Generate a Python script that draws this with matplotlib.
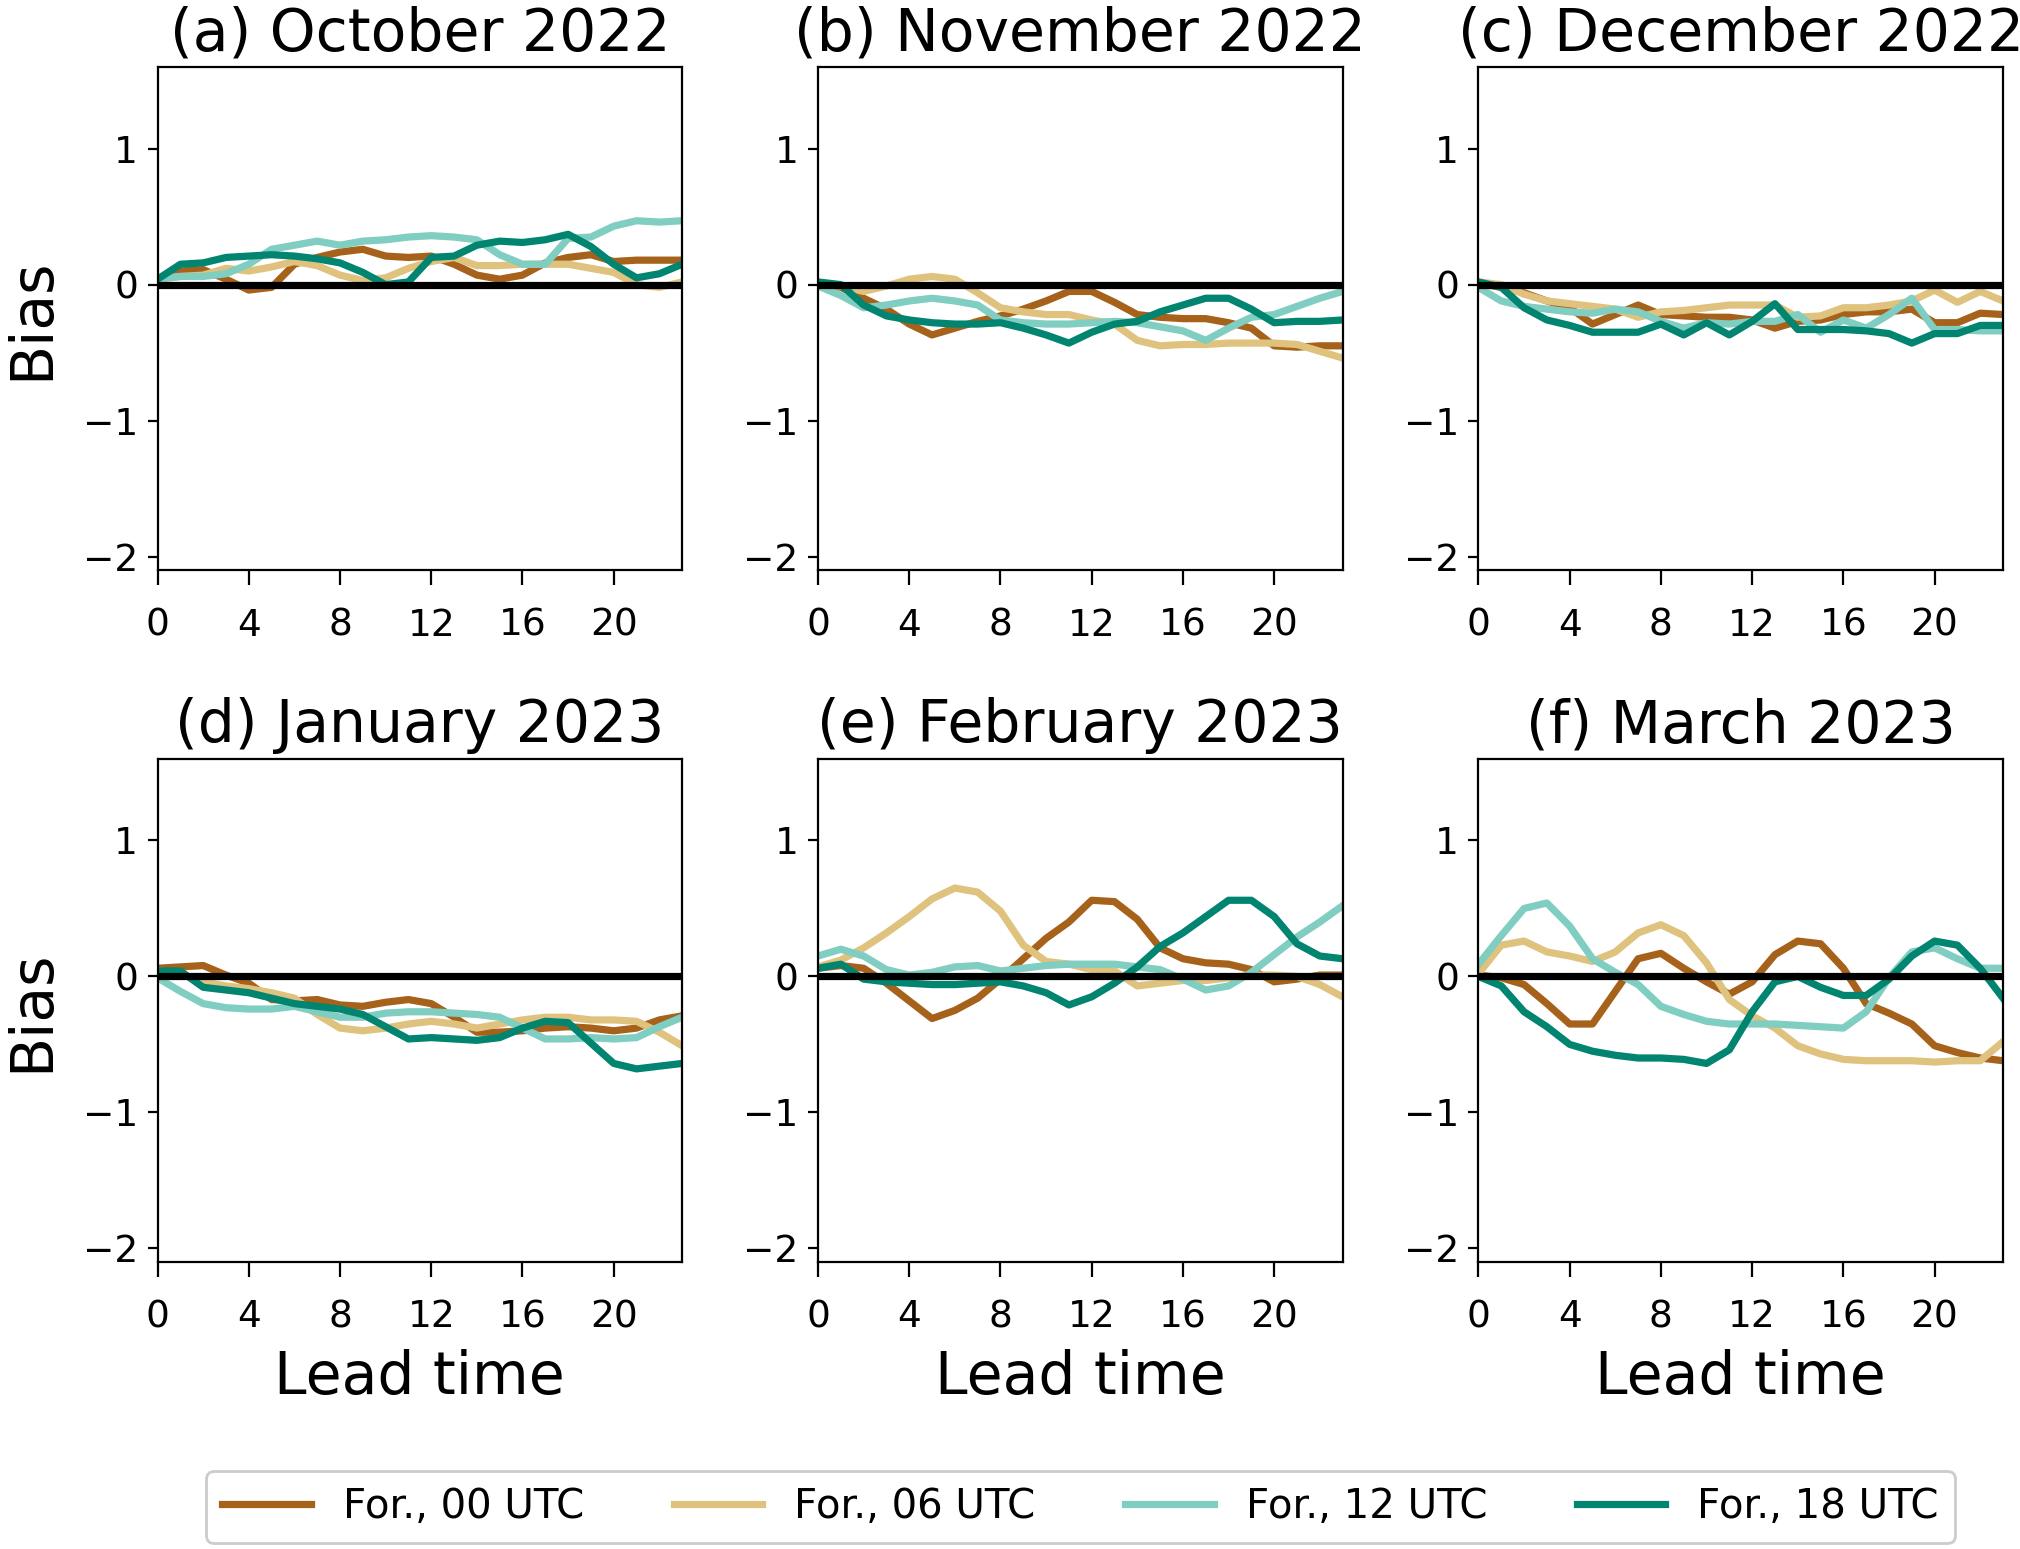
import matplotlib
matplotlib.use('Agg')
import matplotlib.pyplot as plt

lead_time = list(range(24))

titles = ['(a) October 2022', '(b) November 2022', '(c) December 2022',
          '(d) January 2023', '(e) February 2023', '(f) March 2023']
labels = ['For., 00 UTC', 'For., 06 UTC', 'For., 12 UTC', 'For., 18 UTC']
colors = ['#a6611a', '#dfc27d', '#80cdc1', '#018571']

# bias per month, one list per forecast run (00, 06, 12, 18 UTC)
oct_00 = [0.04, 0.10, 0.11, 0.04, -0.04, -0.02, 0.15, 0.20, 0.24, 0.26, 0.21, 0.20,
          0.21, 0.15, 0.07, 0.04, 0.07, 0.16, 0.20, 0.22, 0.17, 0.18, 0.18, 0.18]
oct_06 = [0.04, 0.06, 0.07, 0.12, 0.10, 0.13, 0.17, 0.14, 0.07, 0.03, 0.05, 0.12,
          0.17, 0.20, 0.14, 0.14, 0.15, 0.15, 0.15, 0.12, 0.09, 0.00, -0.02, 0.02]
oct_12 = [0.04, 0.06, 0.06, 0.08, 0.15, 0.26, 0.29, 0.32, 0.29, 0.32, 0.33, 0.35,
          0.36, 0.35, 0.33, 0.22, 0.15, 0.15, 0.34, 0.35, 0.43, 0.47, 0.46, 0.47]
oct_18 = [0.04, 0.15, 0.16, 0.20, 0.21, 0.22, 0.21, 0.19, 0.16, 0.09, 0.00, 0.02,
          0.20, 0.21, 0.29, 0.32, 0.31, 0.33, 0.37, 0.28, 0.15, 0.05, 0.08, 0.15]

nov_00 = [0.01, -0.02, -0.10, -0.18, -0.29, -0.37, -0.32, -0.27, -0.23, -0.18, -0.12, -0.05,
          -0.05, -0.13, -0.22, -0.24, -0.25, -0.25, -0.28, -0.32, -0.45, -0.46, -0.45, -0.45]
nov_06 = [0.00, -0.01, -0.05, -0.01, 0.04, 0.06, 0.04, -0.06, -0.17, -0.20, -0.22, -0.22,
          -0.26, -0.29, -0.41, -0.45, -0.44, -0.44, -0.43, -0.43, -0.43, -0.44, -0.49, -0.54]
nov_12 = [-0.01, -0.08, -0.17, -0.15, -0.12, -0.10, -0.12, -0.15, -0.26, -0.28, -0.29, -0.29,
          -0.28, -0.27, -0.28, -0.31, -0.34, -0.41, -0.32, -0.24, -0.22, -0.16, -0.10, -0.05]
nov_18 = [0.02, 0.00, -0.15, -0.23, -0.26, -0.28, -0.29, -0.29, -0.28, -0.32, -0.37, -0.43,
          -0.35, -0.29, -0.27, -0.20, -0.15, -0.10, -0.10, -0.18, -0.28, -0.27, -0.27, -0.26]

dec_00 = [0.01, -0.02, -0.06, -0.12, -0.17, -0.29, -0.22, -0.15, -0.22, -0.23, -0.24, -0.24,
          -0.26, -0.32, -0.27, -0.26, -0.22, -0.20, -0.20, -0.18, -0.28, -0.28, -0.21, -0.22]
dec_06 = [0.02, 0.00, -0.07, -0.12, -0.14, -0.16, -0.18, -0.24, -0.20, -0.19, -0.17, -0.15,
          -0.15, -0.15, -0.24, -0.23, -0.17, -0.17, -0.15, -0.12, -0.04, -0.13, -0.05, -0.12]
dec_12 = [-0.02, -0.12, -0.16, -0.18, -0.20, -0.21, -0.18, -0.20, -0.27, -0.32, -0.28, -0.29,
          -0.27, -0.27, -0.22, -0.35, -0.26, -0.32, -0.22, -0.10, -0.33, -0.33, -0.34, -0.34]
dec_18 = [0.02, -0.02, -0.17, -0.26, -0.30, -0.35, -0.35, -0.35, -0.29, -0.37, -0.28, -0.37,
          -0.27, -0.14, -0.33, -0.33, -0.33, -0.34, -0.36, -0.43, -0.36, -0.36, -0.30, -0.30]

jan_00 = [0.06, 0.07, 0.08, 0.01, -0.05, -0.17, -0.18, -0.17, -0.21, -0.22, -0.19, -0.17,
          -0.20, -0.30, -0.41, -0.41, -0.40, -0.38, -0.37, -0.38, -0.40, -0.38, -0.32, -0.29]
jan_06 = [0.04, 0.02, -0.04, -0.07, -0.09, -0.12, -0.16, -0.28, -0.38, -0.40, -0.38, -0.35,
          -0.33, -0.35, -0.38, -0.35, -0.32, -0.30, -0.30, -0.32, -0.32, -0.33, -0.41, -0.51]
jan_12 = [-0.01, -0.11, -0.20, -0.23, -0.24, -0.24, -0.22, -0.26, -0.30, -0.30, -0.27, -0.26,
          -0.26, -0.27, -0.28, -0.30, -0.38, -0.46, -0.46, -0.45, -0.46, -0.45, -0.37, -0.30]
jan_18 = [0.04, 0.04, -0.08, -0.10, -0.12, -0.16, -0.20, -0.22, -0.24, -0.28, -0.37, -0.46,
          -0.45, -0.46, -0.47, -0.45, -0.38, -0.33, -0.34, -0.49, -0.64, -0.68, -0.66, -0.64]

feb_00 = [0.06, 0.08, 0.06, -0.05, -0.18, -0.31, -0.25, -0.16, -0.02, 0.13, 0.28, 0.40,
          0.56, 0.55, 0.42, 0.21, 0.13, 0.10, 0.09, 0.05, -0.04, -0.02, 0.01, 0.01]
feb_06 = [0.07, 0.12, 0.21, 0.32, 0.44, 0.57, 0.65, 0.62, 0.48, 0.23, 0.11, 0.09,
          0.05, 0.04, -0.07, -0.05, -0.03, -0.03, -0.01, 0.01, 0.01, 0.00, -0.06, -0.15]
feb_12 = [0.15, 0.20, 0.15, 0.05, 0.01, 0.03, 0.07, 0.08, 0.04, 0.06, 0.08, 0.09,
          0.09, 0.09, 0.07, 0.05, -0.02, -0.10, -0.07, 0.03, 0.16, 0.29, 0.40, 0.52]
feb_18 = [0.06, 0.09, -0.02, -0.04, -0.05, -0.06, -0.06, -0.05, -0.04, -0.07, -0.12, -0.21,
          -0.15, -0.05, 0.07, 0.22, 0.32, 0.44, 0.56, 0.56, 0.44, 0.24, 0.15, 0.13]

mar_00 = [0.01, -0.01, -0.06, -0.20, -0.35, -0.35, -0.11, 0.13, 0.17, 0.06, -0.04, -0.13,
          -0.04, 0.16, 0.26, 0.24, 0.06, -0.20, -0.27, -0.35, -0.51, -0.56, -0.60, -0.62]
mar_06 = [0.02, 0.23, 0.26, 0.18, 0.15, 0.11, 0.18, 0.32, 0.38, 0.30, 0.10, -0.17,
          -0.29, -0.38, -0.51, -0.57, -0.61, -0.62, -0.62, -0.62, -0.63, -0.62, -0.62, -0.48]
mar_12 = [0.09, 0.30, 0.50, 0.54, 0.37, 0.13, 0.03, -0.06, -0.22, -0.28, -0.33, -0.35,
          -0.35, -0.35, -0.36, -0.37, -0.38, -0.26, -0.01, 0.18, 0.21, 0.13, 0.06, 0.06]
mar_18 = [0.00, -0.07, -0.26, -0.37, -0.50, -0.55, -0.58, -0.60, -0.60, -0.61, -0.64, -0.54,
          -0.26, -0.04, 0.00, -0.08, -0.14, -0.14, -0.02, 0.15, 0.26, 0.23, 0.06, -0.16]

months = [
    [oct_00, oct_06, oct_12, oct_18],
    [nov_00, nov_06, nov_12, nov_18],
    [dec_00, dec_06, dec_12, dec_18],
    [jan_00, jan_06, jan_12, jan_18],
    [feb_00, feb_06, feb_12, feb_18],
    [mar_00, mar_06, mar_12, mar_18],
]


def main():
    fig, axes = plt.subplots(2, 3, figsize=(10.1, 7.745), dpi=200)
    fig.subplots_adjust(left=0.078, right=0.9916, top=0.9567, bottom=0.1853,
                        wspace=0.259, hspace=0.375)

    for idx, ax in enumerate(axes.flat):
        for series, label, color in zip(months[idx], labels, colors):
            ax.plot(lead_time, series, color=color, lw=2.6, label=label)
        ax.axhline(0, color='black', lw=2.6, zorder=5)
        ax.set_xlim(0, 23)
        ax.set_ylim(-2.1, 1.6)
        ax.set_xticks([0, 4, 8, 12, 16, 20])
        ax.set_yticks([-2, -1, 0, 1])
        ax.tick_params(labelsize=13.5)
        ax.tick_params(axis='x', length=5.5, pad=8)
        ax.set_title(titles[idx], fontsize=21)
        if idx % 3 == 0:
            ax.set_ylabel('Bias', fontsize=21, labelpad=8)
        if idx >= 3:
            ax.set_xlabel('Lead time', fontsize=21, labelpad=5)

    handles, lbls = axes[0, 0].get_legend_handles_labels()
    fig.legend(handles, lbls, loc='lower left', ncol=4, mode='expand',
               bbox_to_anchor=(206 / 2020, 6 / 1549, 1749 / 2020, 72 / 1549),
               borderaxespad=0, fontsize=14.5, handlelength=2.2, framealpha=1)

    fig.savefig('out.png', dpi=200)


if __name__ == '__main__':
    main()
